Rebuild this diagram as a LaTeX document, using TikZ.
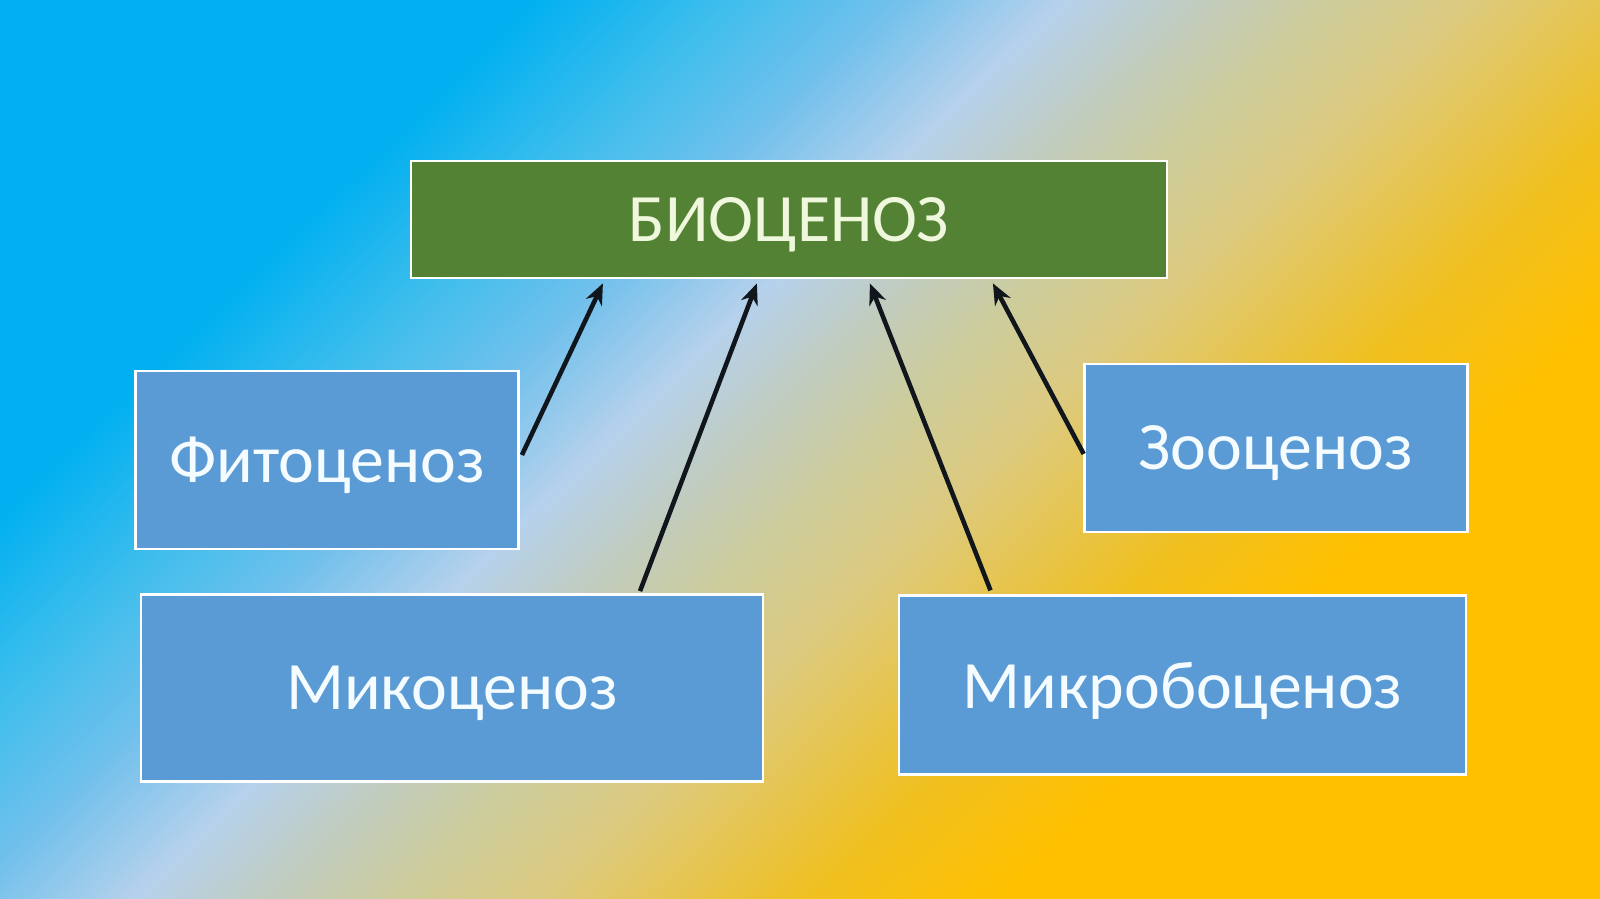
\documentclass[tikz,border=0pt]{standalone}
\usepackage{fontspec}
\setmainfont{Carlito}
\usetikzlibrary{arrows.meta}

\definecolor{bgblue}{HTML}{00B0F0}
\definecolor{bgsky}{HTML}{40BEEC}
\definecolor{bgpale}{HTML}{70C0EC}
\definecolor{bglight}{HTML}{B6D1EC}
\definecolor{bggrey}{HTML}{C2CCBC}
\definecolor{bgsand}{HTML}{CCCC9C}
\definecolor{bgwheat}{HTML}{DCCA80}
\definecolor{bggold}{HTML}{F0C020}
\definecolor{bgorange}{HTML}{FFC000}
\definecolor{biogreen}{HTML}{548235}
\definecolor{biotext}{HTML}{EFF7DC}
\definecolor{unitblue}{HTML}{5B9BD5}
\definecolor{unittext}{HTML}{F5FCFF}
\definecolor{linkblack}{HTML}{10161C}

\pgfdeclarehorizontalshading{bgshade}{18cm}{color(0cm)=(bgblue); color(3.9cm)=(bgblue); color(5.3cm)=(bgsky); color(6.4cm)=(bgpale); color(7.6cm)=(bglight); color(8.6cm)=(bggrey); color(9.4cm)=(bgsand); color(10.4cm)=(bgwheat); color(12.3cm)=(bggold); color(13.6cm)=(bgorange); color(18cm)=(bgorange)}

\begin{document}
\begin{tikzpicture}[
    unit/.style={draw=white, line width=0.8pt, fill=unitblue, text=unittext, inner sep=0pt, text depth=0pt, font=\fontsize{19.3}{23}\selectfont},
    link/.style={draw=linkblack, line width=1.3pt, -{Stealth[length=6pt,width=5pt]}}]
  \useasboundingbox (0,0) rectangle (16,8.99);
  \begin{scope}
    \clip (0,0) rectangle (16,8.99);
    \node[rotate=-46, inner sep=0pt, outer sep=0pt] (bg) at (8,4.495) {\pgfuseshading{bgshade}};
  \end{scope}
  \node[unit, fill=biogreen, text=biotext, minimum width=7.56cm, minimum height=1.17cm] (bio) at (7.889,6.795) {БИОЦЕНОЗ};
  \foreach \pos/\name/\boxw/\boxh/\txt in {{(3.27,4.39)/fito/3.83/1.78/Фитоценоз}, {(12.756,4.51)/zoo/3.83/1.68/Зооценоз}, {(4.52,2.11)/miko/6.22/1.87/Микоценоз}, {(11.825,2.137)/mikrobo/5.67/1.79/Микробоценоз}}
    \node[unit, minimum width=\boxw cm, minimum height=\boxh cm] (\name) at \pos {\txt};
  \foreach \src/\dx/\dy/\off in {fito.east/0.02/0.05/-1.86, miko.north/1.88/0.02/-0.32, mikrobo.north/-1.92/0.04/0.81, zoo.west/0.01/-0.06/2.04}
    \draw[link] ([xshift=\dx cm,yshift=\dy cm]\src) -- ([xshift=\off cm,yshift=-0.04cm]bio.south);
\end{tikzpicture}
\end{document}
